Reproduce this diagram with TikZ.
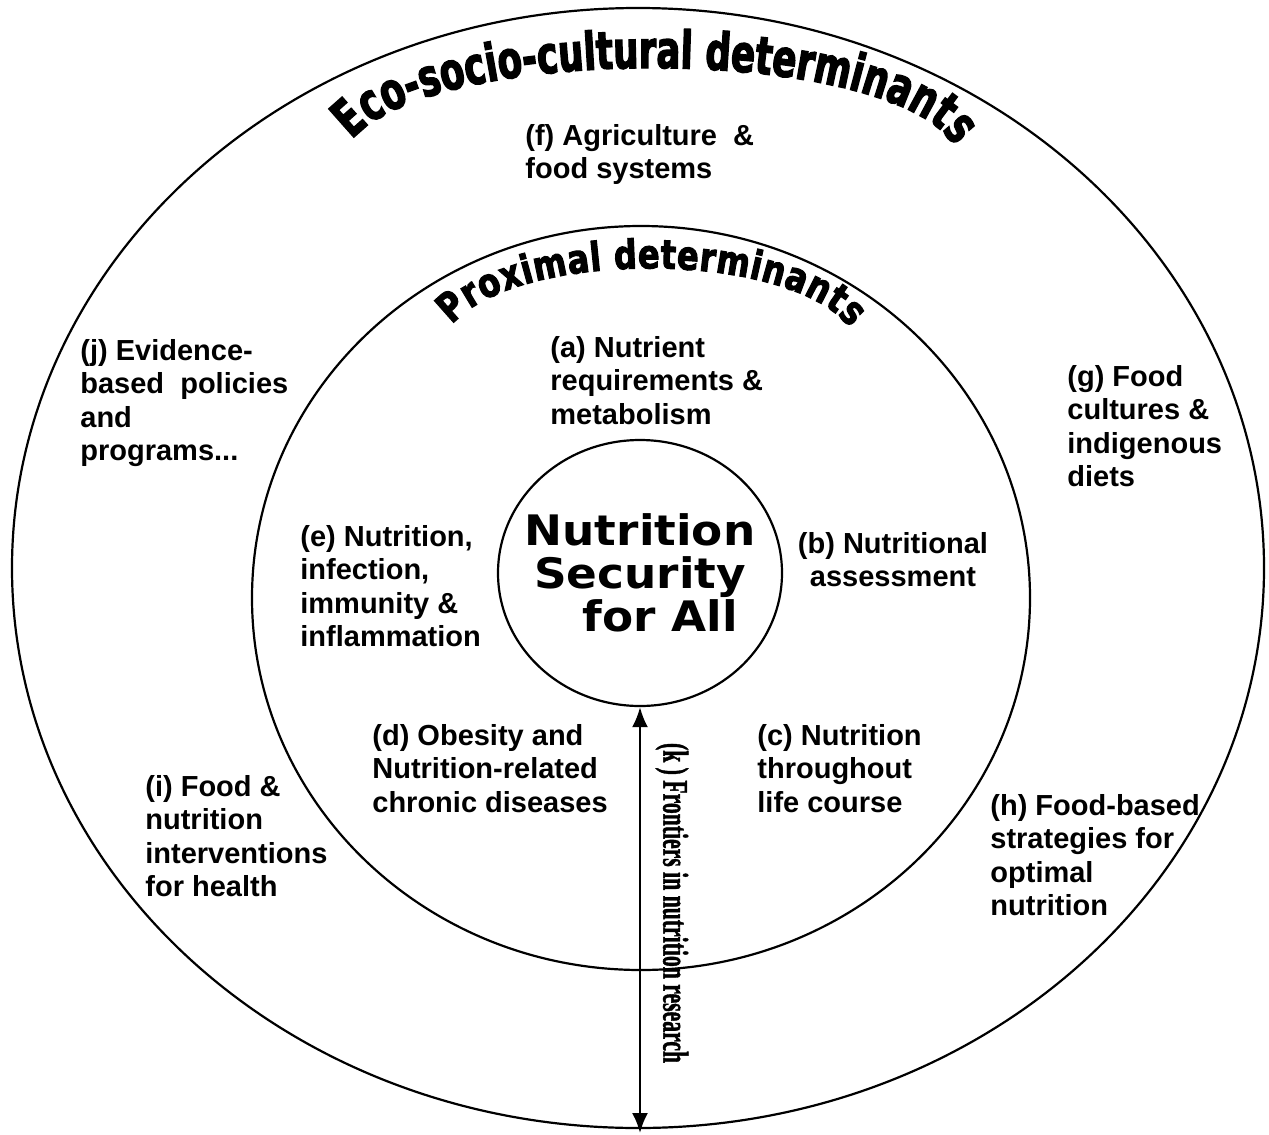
\documentclass[tikz,border=0pt]{standalone}
\usepackage{fontspec}
\usepackage{graphicx}
\setmainfont{Liberation Sans}
\newfontfamily\ecofont[FakeStretch=0.68, BoldFeatures={FakeBold=2.5}]{DejaVu Sans}
\newfontfamily\proxfont[FakeStretch=0.8, BoldFeatures={FakeBold=2.5}]{DejaVu Sans}
\newfontfamily\nsafont[FakeStretch=1.08]{DejaVu Sans}
\newfontfamily\vertfont[BoldFeatures={FakeBold=1.5}]{Liberation Serif}
\usetikzlibrary{shapes.geometric,decorations.text,arrows.meta}

\tikzset{
  lbl/.style={font=\bfseries\fontsize{14.5}{16.75}\selectfont, align=left, anchor=north west, inner sep=0pt},
  ring/.style={line width=1.1pt},
}

\begin{document}
\begin{tikzpicture}[x=0.5pt, y=-0.5pt, >={Latex[length=10pt,width=8pt]}]
  \useasboundingbox (0,0) rectangle (1269,1135);

  % the two rings
  \draw[ring] (638,568) ellipse [x radius=626, y radius=560];
  \draw[ring] (641,598) ellipse [x radius=389, y radius=372];

  % arched titles
  \path[decorate, decoration={text along path, text align=fit to path,
      text={|\ecofont\bfseries\fontsize{26}{26}\selectfont|Eco-socio-cultural determinants}}]
    (352,140) .. controls (432,44) and (873,44) .. (950,140);
  \path[decorate, decoration={text along path, text align=fit to path,
      text={|\proxfont\bfseries\fontsize{20}{20}\selectfont|Proximal determinants}}]
    (452,325) .. controls (516,249) and (789,249) .. (850,328);

  % centre
  \node[ellipse, draw, ring, minimum width=142pt, minimum height=133pt, inner sep=0pt]
    (nsa) at (640,573) {};
  \node[align=center, inner sep=0pt, font=\nsafont\bfseries\fontsize{21}{21.5}\selectfont]
    (nsatext) at (nsa.center) {Nutrition\\Security\\\hspace*{20pt}for All};

  % proximal labels
  \node[lbl] (nutreq) at (550,336) {(a) Nutrient\\requirements \&\\metabolism};
  \node[lbl, anchor=north, align=center] (assess) at (893,532) {(b) Nutritional\\assessment};
  \node[lbl] (lifecourse) at (757,724) {(c) Nutrition\\throughout\\life course};
  \node[lbl] (obesity) at (372,724) {(d) Obesity and\\Nutrition-related\\chronic diseases};
  \node[lbl] (infect) at (300,525) {(e) Nutrition,\\infection,\\immunity \&\\inflammation};

  % eco-socio-cultural labels
  \node[lbl] (agri) at (525,124) {(f) Agriculture~ \&\\food systems};
  \node[lbl] (foodcult) at (1067,365) {(g) Food\\cultures \&\\indigenous\\diets};
  \node[lbl] (foodbased) at (990,794) {(h) Food-based\\strategies for\\optimal\\nutrition};
  \node[lbl] (interv) at (145,775) {(i) Food \&\\nutrition\\interventions\\for health};
  \node[lbl] (policy) at (80,339) {(j) Evidence-\\based~ policies\\and\\programs...};

  % research arrow
  \coordinate (arrowend) at (640,1133);
  \draw[<->, line width=1.2pt] (nsa.south) -- (arrowend);
  \node[rotate=-90, inner sep=0pt, font=\vertfont\bfseries\fontsize{18}{18}\selectfont]
    (frontier) at (672,903) {\resizebox{160pt}{\height}{(k ) Frontiers in nutrition research}};
\end{tikzpicture}
\end{document}
